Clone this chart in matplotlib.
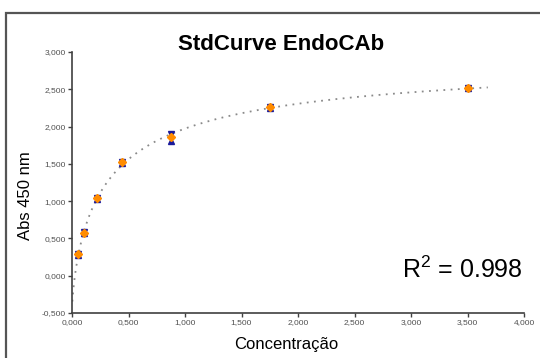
import numpy as np
import matplotlib.pyplot as plt
from matplotlib.patches import Rectangle

# Standard curve data
conc = [0.055, 0.11, 0.22, 0.44, 0.88, 1.75, 3.5]
absorb = [0.29, 0.575, 1.04, 1.52, 1.855, 2.26, 2.515]
err = [0.006, 0.005, 0.006, 0.008, 0.048, 0.006, 0.004]
x_ticks = [0.0, 0.5, 1.0, 1.5, 2.0, 2.5, 3.0, 3.5, 4.0]
y_ticks = [-0.5, 0.0, 0.5, 1.0, 1.5, 2.0, 2.5, 3.0]

plt.rcParams['font.family'] = ['Liberation Sans', 'DejaVu Sans']
plt.rcParams['mathtext.fontset'] = 'custom'
plt.rcParams['mathtext.rm'] = 'Liberation Sans'

# 4-parameter logistic fit: grid search on slope and EC50, least squares on top/bottom
x = np.array(conc)
y = np.array(absorb)
best = None
for b in np.linspace(0.4, 2.0, 81):
    for c in np.linspace(0.1, 3.0, 146):
        g = 1.0 / (1.0 + (x / c) ** b)
        A = np.column_stack([g, 1 - g])
        coef, *_ = np.linalg.lstsq(A, y, rcond=None)
        sse = np.sum((A @ coef - y) ** 2)
        if best is None or sse < best[0]:
            best = (sse, b, c, coef)
_, b_fit, c_fit, (bottom, top) = best
x_fit = np.linspace(0.003, 3.68, 400)
g_fit = 1.0 / (1.0 + (x_fit / c_fit) ** b_fit)
y_fit = bottom * g_fit + top * (1 - g_fit)

fig = plt.figure(figsize=(5.4, 3.58), dpi=100)
ax = fig.add_axes([72/540, 1-313/358, 452/540, 261/358])

# outer frame
fig.patches.append(Rectangle((6/540, -0.1), 1.2, 1-13/358+0.1, transform=fig.transFigure,
                             fill=False, edgecolor='#555555', linewidth=1.6))

ax.plot(x_fit, y_fit, color='#8a8a8a', linestyle=(0, (1, 3)), linewidth=1.3, zorder=1)

for xi, yi, ei in zip(conc, absorb, err):
    ax.plot([xi, xi], [yi - ei, yi + ei], color='#1a1a9a', linewidth=1, zorder=2)
ax.plot(x, y + np.array(err), 'v', color='#1a1a9a', markersize=4, zorder=2)
ax.plot(x, y - np.array(err), '^', color='#1a1a9a', markersize=4, zorder=2)
ax.plot(x, y, 'D', color='#ff8c00', markersize=4, zorder=3)

ax.set_xlim(0, 4)
ax.set_ylim(-0.5, 3.0)
ax.set_xticks(x_ticks)
ax.set_yticks(y_ticks)
ax.set_xticklabels([f"{v:.3f}".replace('.', ',') for v in x_ticks])
ax.set_yticklabels([f"{v:.3f}".replace('.', ',') for v in y_ticks])
for lab in ax.get_xticklabels() + ax.get_yticklabels():
    lab.set_family(['Liberation Sans Narrow', 'Liberation Sans'])
ax.tick_params(direction='out', length=3, width=1, color='#404040',
               labelsize=6, labelcolor='#505050', pad=1.5)

ax.spines['top'].set_visible(False)
ax.spines['right'].set_visible(False)
for s in ['left', 'bottom']:
    ax.spines[s].set_color('#404040')
    ax.spines[s].set_linewidth(1.2)

fig.text(281/540, 1-45/358, 'StdCurve EndoCAb', ha='center', va='center',
         fontsize=16, fontweight='bold')
fig.text(26/540, 1-196/358, 'Abs 450 nm', ha='center', va='center',
         rotation=90, fontsize=12)
fig.text(286/540, 1-345/358, 'Concentração', ha='center', va='center', fontsize=12)
ax.text(0.998, 0.165, r'R$^{2}$ = 0.998', transform=ax.transAxes,
        ha='right', va='center', fontsize=18)

fig.savefig('out.png', dpi=100)
